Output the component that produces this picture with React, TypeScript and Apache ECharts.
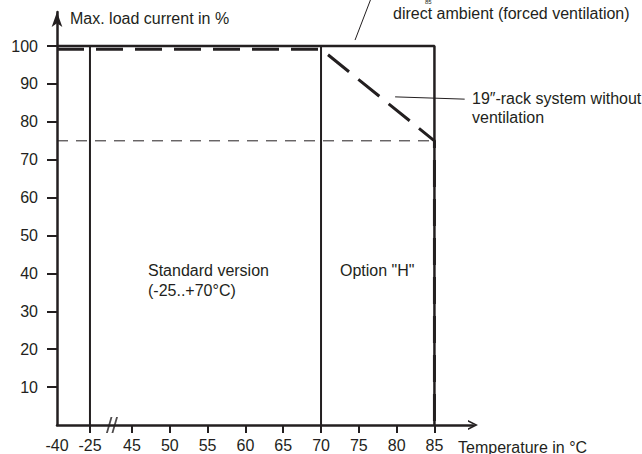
import React, { useEffect, useRef } from "react";
import * as echarts from "echarts";

// ---- data ----
const tempTicks = [-40, -25, 45, 50, 55, 60, 65, 70, 75, 80, 85];
const tempLabels = ["-40", "-25", "45", "50", "55", "60", "65", "70", "75", "80", "85"];
const tempTickMarks = [-25, 45, 50, 55, 60, 65, 70, 75, 80, 85];
const loadTicks = [10, 20, 30, 40, 50, 60, 70, 80, 90, 100];

// direct ambient (forced ventilation) – solid
const ambientTemp = [-40, 85, 85];
const ambientLoad = [100, 100, 0];

// 19"-rack system without ventilation – dashed
const rackTemp = [-40, 70, 85, 85];
const rackLoad = [99.2, 99.2, 75, 0];

// range limits (vertical lines)
const standardTemp = [-25, -25];
const optionTemp = [70, 70];
const limitLoad = [0, 100];

// 75 % reference line
const refTemp = [-40, 85];
const refLoad = [75, 75];

// leader lines (temperature, load)
const ambientLeader = [
  [74.5, 101.6],
  [76.6, 112.5],
];
const rackLeader = [
  [79.8, 86.6],
  [89.0, 86.0],
];

// ---- broken axis mapping (-40..-25 | -25..45 compressed | 45..85 linear) ----
const POS_M40 = 35.08;
const POS_M25 = 39.44;
const POS_45 = 45;
function axisPos(t: number): number {
  if (t >= 45) return t;
  if (t >= -25) return POS_M25 + ((t + 25) * (POS_45 - POS_M25)) / 70;
  return POS_M40 + ((t + 40) * (POS_M25 - POS_M40)) / 15;
}
const BREAK_POS = 42.35;

const INK = "#231f20";
const FONT = "'Liberation Sans', Arial, sans-serif";
const FS = 16;

function pts(xs: number[], ys: number[]) {
  return xs.map((x, i) => [axisPos(x), ys[i]]);
}

export default function App() {
  const ref = useRef<HTMLDivElement>(null);
  useEffect(() => {
    if (!ref.current) return;
    const chart = echarts.init(ref.current, null, { renderer: "svg" });
    const tickPos = tempTicks.map(axisPos);
    const labelFor = (v: number) => {
      let best = 0;
      let d = Infinity;
      tickPos.forEach((p, i) => {
        if (Math.abs(p - v) < d) {
          d = Math.abs(p - v);
          best = i;
        }
      });
      return tempLabels[best];
    };
    const lineSeries = (data: number[][], width: number, type: any, clip = true) => ({
      type: "line",
      data,
      symbol: "none",
      clip,
      silent: true,
      lineStyle: { color: INK, width, type, cap: "butt" },
    });
    const txt = (text: string, x: number, y: number, size = FS) => ({
      type: "text",
      x,
      y,
      silent: true,
      style: { text, fill: INK, fontSize: size, fontFamily: FONT, verticalAlign: "middle" },
    });
    chart.setOption({
      animation: false,
      grid: { left: 57, right: 169, top: 12, bottom: 29, containLabel: false },
      xAxis: {
        type: "value",
        min: POS_M40,
        max: 90.1,
        splitLine: { show: false },
        axisLine: {
          onZero: false,
          symbol: ["none", "path://M0,20 L10,0 L20,20 L16.5,20 L10,7 L3.5,20 Z"],
          symbolSize: [10, 20],
          lineStyle: { color: INK, width: 2.5 },
        },
        axisTick: {
          customValues: tempTickMarks.map(axisPos),
          length: 8,
          lineStyle: { color: INK, width: 2 },
        },
        axisLabel: {
          customValues: tickPos,
          formatter: (v: number) => labelFor(v),
          color: INK,
          fontSize: FS,
          fontFamily: FONT,
          margin: 12,
        },
      },
      yAxis: {
        type: "value",
        min: 0,
        max: 109,
        splitLine: { show: false },
        axisLine: {
          onZero: false,
          symbol: ["none", "arrow"],
          symbolSize: [8, 15],
          lineStyle: { color: INK, width: 2.5 },
        },
        axisTick: {
          customValues: loadTicks,
          length: 10,
          lineStyle: { color: INK, width: 2 },
        },
        axisLabel: {
          customValues: loadTicks,
          color: INK,
          fontSize: FS,
          fontFamily: FONT,
          margin: 19,
        },
      },
      series: [
        lineSeries(pts(refTemp, refLoad), 1, [11, 8]),
        lineSeries(pts(standardTemp, limitLoad), 2, "solid"),
        lineSeries(pts(optionTemp, limitLoad), 2, "solid"),
        lineSeries(pts(ambientTemp, ambientLoad), 2.5, "solid"),
        lineSeries(pts(rackTemp, rackLoad), 3, [27, 12]),
        lineSeries(ambientLeader, 1, "solid", false),
        lineSeries(rackLeader, 1, "solid", false),
        {
          type: "scatter",
          silent: true,
          data: [[BREAK_POS, 0]],
          symbol: "path://M0,20 L5,0 L7,0 L2,20 Z M6,20 L11,0 L13,0 L8,20 Z",
          symbolSize: [12, 16],
          itemStyle: { color: INK },
          z: 5,
        },
      ],
      graphic: [
        txt("Max. load current in %", 70, 18),
        txt("85", 425, 2, 6),
        txt("direct ambient (forced ventilation)", 393, 13),
        txt("19\u2033-rack system without", 472, 98),
        txt("ventilation", 472, 117),
        txt("Standard version", 148, 270),
        txt("(-25..+70\u00b0C)", 148, 290),
        txt('Option "H"', 340, 270),
        txt("Temperature in \u00b0C", 458, 447),
      ],
    });
    return () => chart.dispose();
  }, []);
  return (
    <div
      ref={ref}
      style={{ position: "absolute", left: 0, top: 0, width: 642, height: 454, background: "#fff" }}
    />
  );
}
